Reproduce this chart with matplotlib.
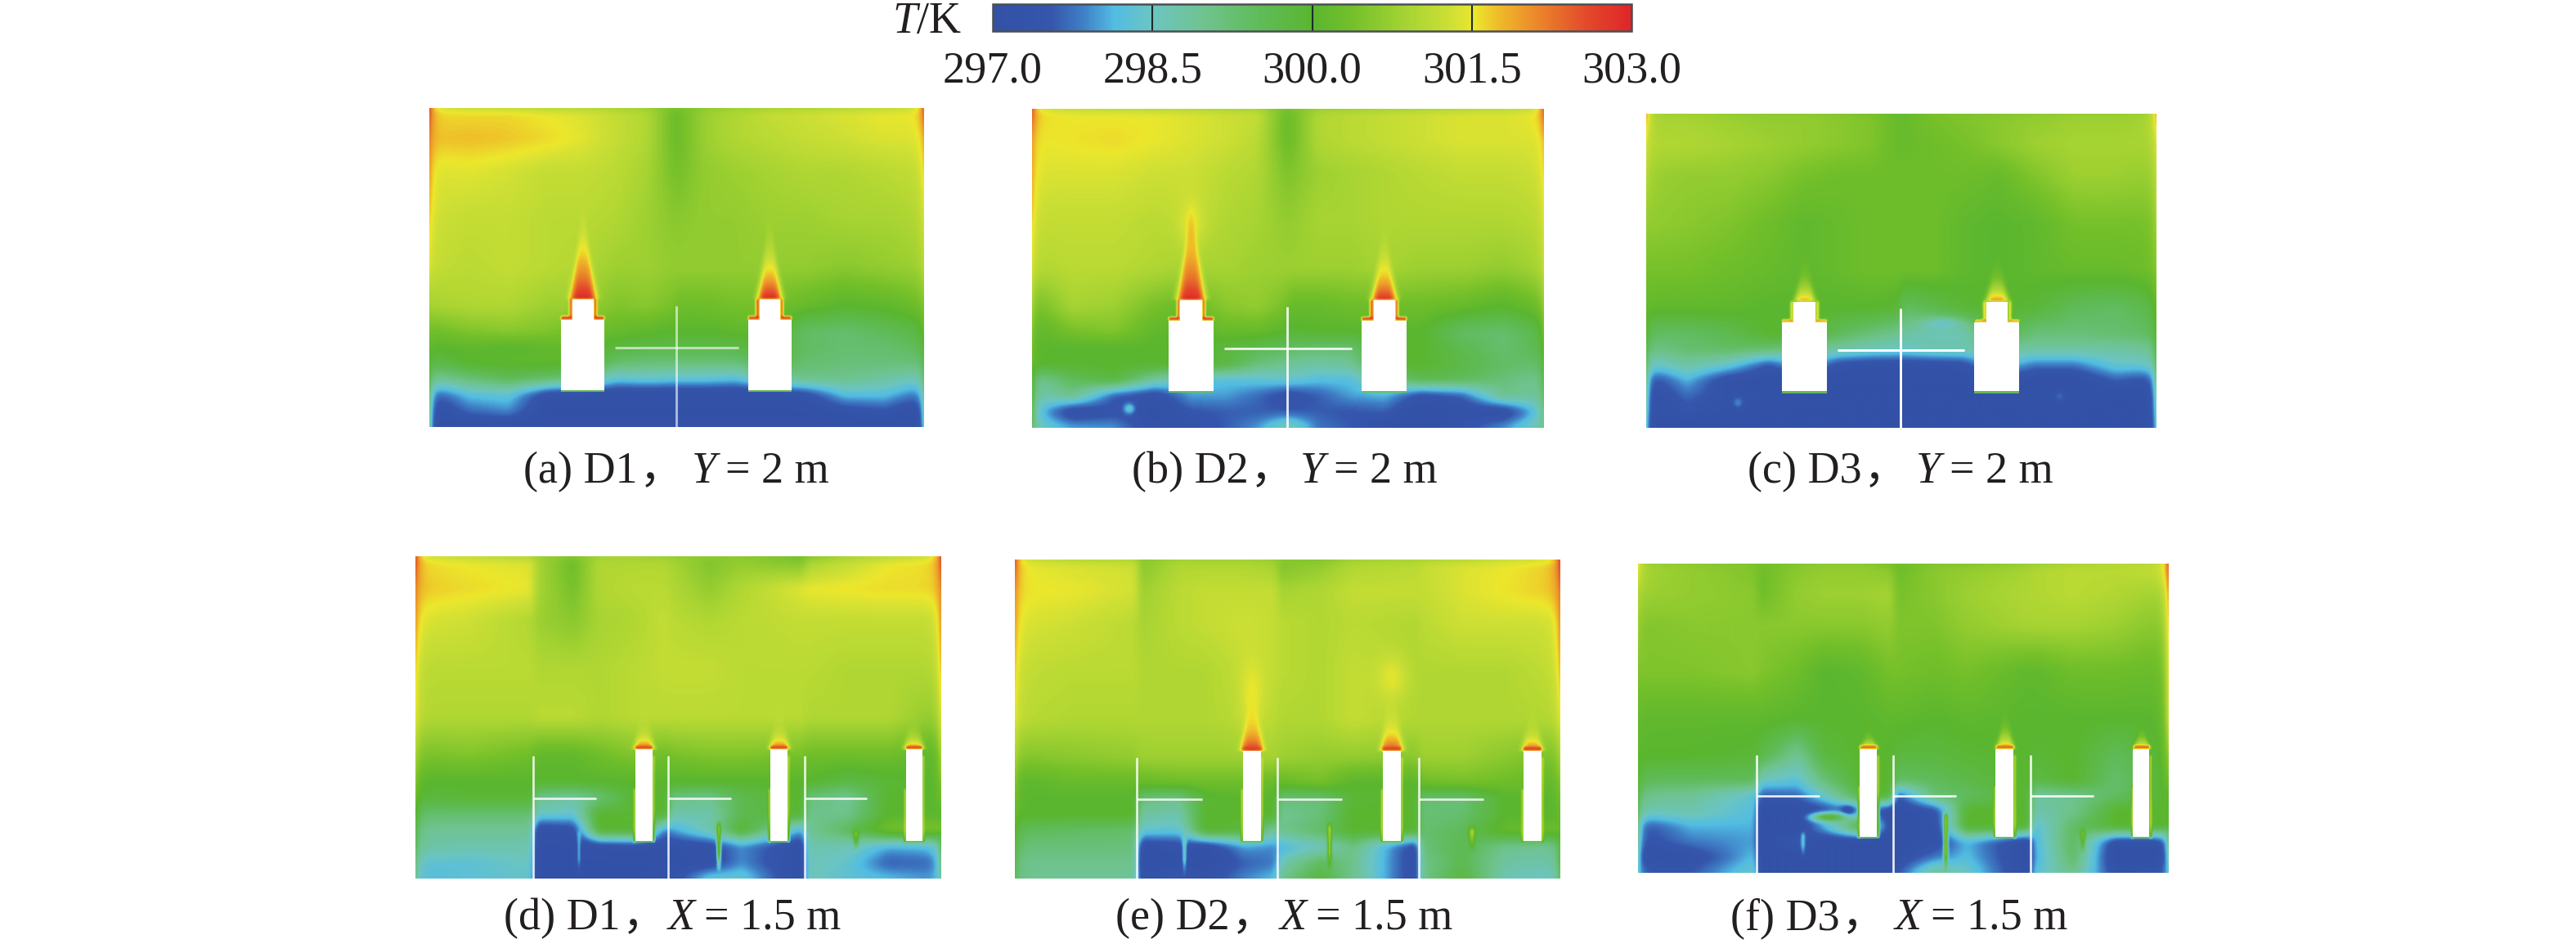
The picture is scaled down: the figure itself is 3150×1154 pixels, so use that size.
"""
Temperature fields in the D1-D3 rooms, sections Y = 2 m and X = 1.5 m
"""

import numpy as np
import matplotlib
matplotlib.use("Agg")
import matplotlib.pyplot as plt
from matplotlib.cm import ScalarMappable
from matplotlib.colors import LinearSegmentedColormap, Normalize
from matplotlib.patches import Rectangle

W, H = 3150, 1154
SERIF = "Liberation Serif"
CJK = "Noto Sans CJK SC"

T_MIN, T_MAX = 297.0, 303.0
CBAR_TICKS = [297.0, 298.5, 300.0, 301.5, 303.0]
CBAR_STOPS = [
    (0.00, "#3251a7"), (0.09, "#3556ac"), (0.14, "#3f7fc6"), (0.19, "#52bde3"),
    (0.25, "#6cc5c0"), (0.33, "#6fc38f"), (0.42, "#5fbb57"), (0.50, "#5ab62f"),
    (0.56, "#72bf2a"), (0.65, "#a7d433"), (0.72, "#cfe035"), (0.755, "#ece72c"),
    (0.80, "#efb429"), (0.87, "#e97a2b"), (0.93, "#e34a2b"), (1.00, "#de2629"),
]

# sample positions of the temperature tables, as fractions of a panel
ROWS = [0, .018, .10, .20, .35, .50, .62, .70, .75, .80, .85, .90, .95, 1]
COLS_Y = [0, .08, .16, .24, .31, .38, .44, .495, .505, .56, .62, .69, .76, .84, .92, 1]
COLS_X = [0, .10, .22, .232, .30, .35, .42, .476, .488, .56, .62, .735, .747, .82, .90, 1]

T_A = [
    [301.3, 301.1, 301.0, 300.9, 300.9, 300.8, 300.7, 300.5, 300.5, 300.6, 300.7, 300.8, 300.8, 300.9, 301.0, 301.2],
    [301.6, 301.6, 301.6, 301.5, 301.4, 301.2, 301.0, 300.3, 300.3, 300.8, 301.0, 301.2, 301.3, 301.4, 301.5, 301.5],
    [301.7, 301.75, 301.7, 301.6, 301.45, 301.2, 301.0, 300.3, 300.3, 300.8, 301.0, 301.1, 301.2, 301.3, 301.4, 301.4],
    [301.4, 301.45, 301.35, 301.2, 301.2, 301.1, 300.9, 300.4, 300.4, 300.7, 300.8, 300.9, 301.0, 301.0, 301.1, 301.2],
    [301.3, 301.2, 301.2, 301.1, 301.1, 301.0, 300.8, 300.6, 300.6, 300.7, 300.7, 300.8, 300.8, 300.9, 300.9, 301.0],
    [301.2, 301.1, 301.2, 301.1, 301.0, 300.8, 300.8, 300.7, 300.7, 300.7, 300.7, 300.7, 300.7, 300.6, 300.7, 300.8],
    [300.9, 301.0, 301.0, 300.8, 300.8, 300.5, 300.6, 300.4, 300.3, 300.3, 300.4, 300.4, 300.2, 300.0, 300.1, 300.3],
    [300.3, 300.5, 300.6, 300.5, 300.3, 300.2, 300.1, 300.0, 300.0, 300.0, 300.1, 300.1, 299.4, 299.3, 299.5, 299.8],
    [300.0, 300.1, 300.0, 300.1, 300.2, 299.8, 299.7, 299.7, 299.7, 299.7, 299.7, 300.0, 299.4, 299.3, 299.3, 299.5],
    [299.6, 300.0, 300.1, 300.1, 300.0, 299.3, 299.2, 299.2, 299.2, 299.2, 299.2, 299.7, 299.3, 299.2, 299.2, 299.2],
    [298.8, 299.2, 299.5, 299.3, 299.0, 298.3, 298.4, 298.3, 298.3, 298.3, 298.2, 298.8, 299.0, 299.0, 298.8, 298.5],
    [297.4, 298.2, 298.3, 297.2, 297.1, 297.0, 297.0, 297.0, 297.0, 297.0, 297.0, 297.0, 297.3, 298.2, 298.2, 297.6],
    [297.0, 297.7, 297.9, 297.0, 297.0, 297.0, 297.0, 297.0, 297.0, 297.0, 297.0, 297.0, 297.0, 297.3, 297.5, 297.0],
    [297.0, 297.0, 297.0, 297.0, 297.0, 297.0, 297.0, 297.0, 297.0, 297.0, 297.0, 297.0, 297.0, 297.0, 297.0, 297.0],
]
T_B = [
    [301.3, 301.1, 301.0, 300.9, 300.9, 300.8, 300.8, 300.5, 300.5, 300.7, 300.7, 300.8, 300.8, 300.9, 301.0, 301.2],
    [301.6, 301.5, 301.5, 301.5, 301.4, 301.3, 301.2, 300.3, 300.3, 301.0, 301.1, 301.2, 301.3, 301.4, 301.4, 301.5],
    [301.5, 301.55, 301.6, 301.5, 301.4, 301.3, 301.1, 300.3, 300.3, 301.0, 301.1, 301.2, 301.3, 301.4, 301.4, 301.4],
    [301.4, 301.4, 301.4, 301.3, 301.3, 301.1, 301.0, 300.5, 300.5, 300.8, 300.9, 301.0, 301.1, 301.2, 301.2, 301.3],
    [301.2, 301.2, 301.2, 301.1, 301.2, 301.0, 300.9, 300.7, 300.7, 300.9, 300.9, 301.0, 301.0, 301.0, 301.0, 301.1],
    [301.0, 301.1, 301.1, 301.0, 300.9, 300.9, 300.8, 300.8, 300.8, 300.8, 300.8, 300.9, 300.8, 300.8, 300.7, 300.9],
    [300.3, 300.9, 300.8, 300.4, 300.2, 300.6, 300.7, 300.4, 300.2, 300.2, 300.3, 300.3, 300.3, 300.2, 300.0, 300.3],
    [300.0, 300.4, 300.5, 300.1, 300.0, 300.2, 300.2, 300.0, 299.9, 300.0, 300.0, 300.0, 300.0, 299.4, 299.3, 299.7],
    [300.0, 300.0, 300.0, 300.0, 300.0, 299.8, 299.6, 299.5, 299.4, 299.3, 299.3, 300.0, 300.0, 299.6, 299.3, 299.6],
    [300.0, 300.0, 300.0, 300.0, 300.0, 299.8, 299.2, 299.0, 298.9, 298.8, 298.9, 300.0, 300.0, 299.7, 299.4, 299.3],
    [298.8, 299.5, 299.8, 298.8, 298.4, 298.2, 298.3, 298.4, 298.4, 298.2, 298.2, 299.0, 299.6, 299.5, 299.2, 298.9],
    [298.6, 299.0, 297.6, 297.2, 298.0, 298.0, 297.7, 297.3, 297.3, 297.6, 298.0, 298.1, 297.3, 297.6, 299.0, 298.8],
    [298.4, 297.1, 297.4, 297.1, 297.5, 297.6, 297.6, 297.6, 297.6, 297.6, 297.5, 297.6, 297.0, 297.2, 297.1, 298.4],
    [298.6, 298.1, 298.0, 297.2, 297.3, 297.6, 298.0, 298.8, 298.8, 297.8, 297.6, 297.1, 297.0, 297.4, 298.0, 298.8],
]
T_C = [
    [300.8, 300.8, 300.7, 300.6, 300.6, 300.5, 300.4, 300.2, 300.2, 300.4, 300.5, 300.5, 300.6, 300.7, 300.7, 300.8],
    [300.9, 300.9, 300.8, 300.7, 300.7, 300.6, 300.5, 300.2, 300.2, 300.4, 300.5, 300.6, 300.7, 300.8, 300.8, 300.9],
    [301.0, 301.0, 300.9, 300.8, 300.7, 300.6, 300.5, 300.2, 300.2, 300.3, 300.4, 300.6, 300.8, 300.9, 300.9, 300.9],
    [300.8, 300.7, 300.7, 300.6, 300.4, 300.3, 300.3, 300.3, 300.3, 300.3, 300.3, 300.2, 300.5, 300.8, 300.8, 300.7],
    [300.7, 300.6, 300.5, 300.3, 300.1, 300.2, 300.3, 300.3, 300.3, 300.3, 300.1, 300.0, 300.1, 300.4, 300.4, 300.4],
    [300.4, 300.4, 300.3, 300.2, 300.1, 300.2, 300.3, 300.3, 300.3, 300.3, 300.1, 300.0, 300.1, 300.2, 300.2, 300.3],
    [300.1, 300.1, 300.1, 300.0, 300.0, 300.0, 300.0, 299.9, 299.4, 299.6, 299.9, 300.0, 299.9, 299.5, 299.4, 299.7],
    [299.4, 299.4, 299.6, 300.0, 300.0, 299.5, 299.2, 299.0, 298.8, 298.6, 298.6, 299.8, 299.2, 299.2, 299.3, 299.4],
    [299.0, 299.3, 299.4, 299.3, 299.0, 298.8, 298.6, 298.5, 298.5, 298.7, 298.7, 298.9, 298.8, 298.8, 298.8, 298.9],
    [298.3, 298.8, 298.4, 297.5, 298.3, 297.3, 297.2, 297.2, 297.2, 297.2, 297.3, 298.4, 297.8, 297.8, 298.4, 298.4],
    [297.2, 298.1, 297.2, 297.0, 297.0, 297.0, 297.0, 297.0, 297.0, 297.0, 297.0, 297.2, 297.0, 297.0, 297.6, 297.3],
    [297.0, 297.7, 297.3, 297.2, 297.0, 297.0, 297.0, 297.0, 297.0, 297.0, 297.0, 297.0, 297.2, 297.2, 297.0, 297.0],
    [297.0, 297.4, 297.1, 297.0, 297.0, 297.0, 297.0, 297.0, 297.0, 297.0, 297.0, 297.0, 297.0, 297.0, 297.0, 297.0],
    [297.0, 297.0, 297.0, 297.0, 297.0, 297.0, 297.0, 297.0, 297.0, 297.0, 297.0, 297.0, 297.0, 297.0, 297.0, 297.0],
]
T_D = [
    [301.3, 301.1, 300.9, 300.8, 300.6, 300.8, 300.8, 300.7, 300.7, 300.7, 300.6, 300.4, 300.5, 300.8, 301.0, 301.3],
    [301.6, 301.5, 301.4, 300.9, 300.3, 301.0, 301.0, 301.0, 300.9, 300.5, 300.7, 300.5, 300.9, 301.2, 301.5, 301.6],
    [301.7, 301.6, 301.5, 300.9, 300.4, 301.0, 301.1, 301.1, 301.0, 300.7, 301.0, 301.45, 301.5, 301.55, 301.6, 301.6],
    [301.4, 301.3, 301.0, 300.8, 300.6, 300.9, 301.0, 301.2, 301.1, 301.0, 301.1, 301.2, 301.2, 301.2, 301.2, 301.2],
    [301.1, 301.1, 301.1, 301.0, 301.0, 301.0, 301.1, 301.2, 301.2, 301.2, 301.1, 301.1, 301.1, 301.0, 301.0, 301.0],
    [301.0, 301.0, 301.0, 301.1, 301.1, 301.0, 301.1, 301.1, 301.1, 301.1, 301.1, 301.1, 301.0, 301.0, 301.0, 300.6],
    [300.4, 300.5, 300.3, 300.1, 300.1, 300.3, 300.5, 300.3, 300.4, 300.5, 300.5, 300.4, 300.3, 300.3, 300.3, 300.0],
    [300.0, 300.0, 300.0, 300.0, 300.0, 300.0, 300.0, 300.0, 300.0, 300.0, 300.0, 300.0, 300.0, 299.7, 299.9, 300.0],
    [299.8, 299.9, 299.9, 299.0, 298.8, 299.2, 300.0, 300.0, 299.1, 299.0, 299.6, 300.0, 299.2, 298.9, 300.0, 300.0],
    [299.3, 299.3, 299.3, 298.5, 298.4, 300.0, 299.9, 300.0, 298.7, 298.7, 299.6, 300.0, 299.0, 299.0, 300.0, 300.0],
    [298.9, 298.9, 298.9, 297.1, 297.3, 300.0, 300.0, 297.8, 298.0, 298.7, 300.0, 298.0, 298.9, 299.5, 300.4, 300.5],
    [298.8, 298.7, 298.7, 297.0, 297.0, 297.2, 297.3, 297.1, 297.2, 297.3, 297.9, 297.1, 298.7, 298.6, 298.1, 298.2],
    [298.3, 298.3, 298.5, 297.0, 297.0, 297.0, 297.0, 297.0, 297.1, 297.2, 297.9, 297.0, 298.6, 298.4, 297.6, 297.7],
    [298.2, 298.3, 298.4, 297.0, 297.0, 297.0, 297.0, 297.2, 297.3, 298.4, 298.4, 297.0, 298.6, 298.3, 298.2, 297.9],
]
T_E = [
    [301.3, 301.0, 300.9, 300.6, 300.8, 300.8, 300.8, 300.7, 300.6, 300.5, 300.8, 300.9, 300.9, 301.0, 301.2, 301.3],
    [301.5, 301.4, 301.3, 300.6, 301.0, 301.0, 301.0, 300.9, 300.5, 300.7, 301.0, 301.1, 301.2, 301.4, 301.5, 301.7],
    [301.55, 301.5, 301.35, 300.8, 301.1, 301.2, 301.2, 301.2, 300.9, 301.0, 301.2, 301.2, 301.2, 301.4, 301.55, 301.7],
    [301.4, 301.3, 301.1, 300.9, 301.1, 301.2, 301.3, 301.2, 301.1, 301.0, 301.1, 301.0, 301.1, 301.3, 301.3, 301.3],
    [301.2, 301.1, 301.1, 301.0, 301.0, 301.0, 301.2, 301.2, 301.1, 301.0, 301.2, 301.0, 301.0, 301.0, 301.0, 301.2],
    [301.1, 301.0, 301.0, 301.0, 301.0, 301.0, 301.1, 301.1, 301.0, 301.0, 301.2, 301.0, 301.0, 301.0, 301.0, 301.0],
    [300.5, 300.6, 300.7, 300.8, 300.8, 300.8, 300.8, 300.9, 300.8, 300.7, 300.7, 300.6, 300.8, 300.8, 300.6, 300.4],
    [300.0, 300.2, 300.2, 300.2, 300.3, 300.3, 300.3, 300.2, 300.2, 300.4, 300.0, 300.0, 300.3, 300.4, 300.3, 300.1],
    [300.0, 300.0, 300.0, 299.2, 299.0, 299.9, 300.0, 300.0, 299.2, 299.2, 299.9, 300.0, 299.3, 299.2, 300.0, 300.0],
    [300.0, 300.0, 300.0, 298.8, 298.7, 300.0, 300.0, 300.0, 298.9, 299.2, 300.0, 300.0, 299.2, 299.3, 300.0, 300.0],
    [299.5, 299.4, 299.3, 298.4, 298.3, 300.0, 299.8, 298.8, 299.0, 299.4, 300.0, 300.0, 299.3, 299.5, 300.2, 300.3],
    [299.2, 299.2, 299.2, 297.1, 297.3, 297.1, 298.0, 297.9, 298.1, 298.5, 299.1, 297.2, 299.2, 299.6, 299.0, 298.9],
    [299.0, 299.0, 299.0, 297.0, 297.1, 297.0, 297.6, 297.8, 298.6, 299.5, 299.0, 297.2, 299.0, 299.6, 298.8, 298.7],
    [299.0, 298.9, 298.9, 297.2, 297.6, 297.3, 297.9, 298.2, 299.0, 299.8, 299.0, 297.2, 299.0, 299.8, 298.6, 298.4],
]
T_F = [
    [300.8, 300.6, 300.5, 300.4, 300.5, 300.6, 300.6, 300.4, 300.3, 300.5, 300.5, 300.7, 300.7, 300.9, 301.0, 301.1],
    [300.9, 300.7, 300.5, 300.3, 300.6, 300.7, 300.7, 300.6, 300.3, 300.6, 300.7, 300.9, 301.0, 301.1, 301.1, 301.2],
    [300.8, 300.7, 300.6, 300.3, 300.7, 300.8, 300.8, 300.9, 300.4, 300.6, 300.8, 301.0, 301.0, 301.1, 301.0, 300.8],
    [300.5, 300.6, 300.6, 300.6, 300.6, 300.6, 300.6, 300.7, 300.5, 300.5, 300.7, 300.9, 300.9, 300.9, 300.8, 300.5],
    [300.5, 300.5, 300.6, 300.5, 300.3, 300.0, 300.1, 300.4, 300.4, 300.3, 300.4, 300.1, 300.1, 300.3, 300.3, 300.2],
    [300.1, 300.1, 300.1, 300.1, 300.0, 300.0, 300.0, 300.1, 300.1, 300.0, 300.1, 300.0, 300.0, 300.0, 300.0, 300.0],
    [300.0, 300.0, 299.9, 299.7, 298.9, 299.8, 300.0, 300.0, 299.8, 299.8, 299.9, 300.0, 299.9, 300.0, 299.5, 300.0],
    [299.5, 299.5, 299.5, 298.5, 298.3, 299.2, 300.0, 300.0, 299.4, 299.5, 299.7, 300.0, 299.7, 300.0, 299.3, 300.0],
    [299.0, 298.9, 298.3, 297.6, 297.7, 298.5, 299.7, 300.0, 297.5, 299.3, 299.4, 300.0, 298.8, 299.0, 299.4, 300.0],
    [298.6, 298.7, 298.2, 297.0, 297.0, 297.3, 298.0, 297.0, 297.0, 297.4, 300.0, 300.0, 298.7, 299.0, 300.0, 300.0],
    [297.4, 298.1, 298.1, 297.0, 297.0, 298.2, 300.0, 297.3, 297.0, 297.3, 300.0, 300.0, 298.2, 299.4, 300.0, 300.0],
    [297.3, 297.8, 298.0, 297.0, 297.6, 297.0, 297.0, 297.0, 297.0, 297.3, 298.1, 297.0, 298.1, 299.5, 297.2, 297.2],
    [297.0, 297.2, 298.2, 297.0, 297.0, 297.0, 297.0, 297.0, 297.2, 297.8, 298.2, 297.0, 298.0, 299.4, 297.0, 297.0],
    [297.6, 297.6, 298.5, 297.0, 297.0, 297.0, 297.0, 297.0, 297.5, 299.0, 298.5, 297.0, 298.3, 299.0, 297.3, 297.5],
]

# wall temperatures down the left and right sides
WALL_ROWS = [0, .10, .30, .50, .70, 1]
WALL_A = ([302.7, 302.2, 301.8, 301.4, 300.4, 299.0], [302.6, 301.9, 301.5, 301.1, 300.2, 298.5])
WALL_B = ([302.6, 302.0, 301.8, 301.4, 300.6, 299.5], [302.6, 301.8, 301.5, 301.2, 300.4, 299.0])
WALL_C = ([302.0, 301.4, 300.8, 300.4, 300.0, 298.5], [302.0, 301.4, 301.0, 300.6, 300.0, 298.5])
WALL_D = ([302.7, 302.2, 301.8, 301.5, 300.6, 299.0], [302.7, 302.2, 301.9, 301.5, 300.6, 299.0])
WALL_E = ([302.6, 302.1, 301.8, 301.5, 300.6, 299.5], [302.8, 302.3, 301.9, 301.5, 300.6, 299.5])
WALL_F = ([301.6, 301.0, 300.6, 300.2, 300.0, 298.5], [302.6, 302.0, 301.6, 301.4, 300.4, 298.5])

# plume above each heat source: centre, tip height, half width, peak T, fall-off power
PLUMES_A = [(.311, .28, .026, 303.0, 2.0), (.688, .30, .024, 303.0, 2.6)]
PLUMES_B = [(.311, .26, .027, 303.0, 1.7), (.688, .33, .024, 302.9, 2.6)]
PLUMES_C = [(.311, .40, .020, 302.0, 3.5), (.688, .40, .022, 302.2, 3.5)]
PLUMES_D = [(.435, .40, .018, 302.8, 6.0), (.692, .40, .018, 302.8, 6.0), (.948, .42, .018, 302.6, 6.0)]
PLUMES_E = [(.435, .30, .020, 302.9, 4.5), (.691, .30, .020, 302.7, 5.0), (.949, .38, .018, 302.6, 5.5)]
PLUMES_F = [(.435, .52, .016, 301.9, 2.5), (.692, .44, .016, 302.1, 3.0), (.949, .50, .016, 301.9, 2.5)]

# soft patches: x, y, x radius, y radius, T
BLOBS_A = []
BLOBS_B = [(.19, .94, .012, .018, 298.4), (.311, .36, .022, .07, 301.5)]
BLOBS_C = [(.58, .67, .035, .018, 298.4), (.18, .92, .012, .02, 297.9), (.81, .90, .012, .02, 297.7)]
BLOBS_D = []
BLOBS_E = [(.435, .42, .022, .11, 301.5), (.691, .37, .028, .07, 301.45)]
BLOBS_F = [(.395, .80, .014, .017, 297.1), (.36, .82, .035, .015, 300.0)]

# thin vertical streaks: x, top, bottom, half width, T
STREAKS_A, STREAKS_B, STREAKS_C = [], [], []
STREAKS_D = [(.311, .84, 1.0, .004, 298.2), (.577, .82, .98, .003, 301.0), (.838, .84, .92, .005, 300.6)]
STREAKS_E = [(.311, .85, 1.0, .004, 298.6), (.577, .82, .98, .003, 301.2), (.838, .83, .92, .005, 301.0)]
STREAKS_F = [(.311, .86, .97, .004, 298.4), (.580, .80, 1.0, .003, 301.4), (.838, .85, .94, .004, 300.6)]

# heat next to the sources: neck sides or bar sides, top shoulder
EDGE_HEAT = [302.3, 302.3, 301.5, 301.4, 301.5, 301.5]
SHOULDER_HEAT = [302.8, 302.8, 302.4, 302.6, 302.6, 302.3]

PANELS = [T_A, T_B, T_C, T_D, T_E, T_F]
WALLS = [WALL_A, WALL_B, WALL_C, WALL_D, WALL_E, WALL_F]
PLUMES = [PLUMES_A, PLUMES_B, PLUMES_C, PLUMES_D, PLUMES_E, PLUMES_F]
BLOBS = [BLOBS_A, BLOBS_B, BLOBS_C, BLOBS_D, BLOBS_E, BLOBS_F]
STREAKS = [STREAKS_A, STREAKS_B, STREAKS_C, STREAKS_D, STREAKS_E, STREAKS_F]
LABELS = ["(a) D1", "(b) D2", "(c) D3", "(d) D1", "(e) D2", "(f) D3"]
AXIS_NAMES = ["Y", "Y", "Y", "X", "X", "X"]
AXIS_VALUES = ["= 2 m", "= 2 m", "= 2 m", "= 1.5 m", "= 1.5 m", "= 1.5 m"]

# panel boxes in image pixels: left, right, top, bottom
BOXES = [(525, 1130, 132, 522), (1262, 1888, 133, 523), (2013, 2636, 139, 523),
         (508, 1151, 680, 1074), (1241, 1908, 684, 1074), (2003, 2651, 689, 1067)]
CAPTION_X = [640, 1384, 2137, 616, 1364, 2116]
CAPTION_BASE = [590, 590, 590, 1136, 1136, 1136]
LINE_ALPHA = [.6, .85, 1, .85, .85, .9]

BODIES = [(.266, .354), (.644, .732)]
NECKS = [(.289, .332), (.667, .709)]
BARS = [(.418, .451), (.675, .708), (.933, .965)]
VLINES_X = [.224, .481, .740]
HLINE_LEN = .119

cmap = LinearSegmentedColormap.from_list("room", CBAR_STOPS)
norm = Normalize(T_MIN, T_MAX)


def blur(a, r, axis):
    kernel = np.ones(2 * r + 1) / (2 * r + 1)
    pad = [(0, 0), (0, 0)]
    pad[axis] = (r, r)
    p = np.pad(a, pad, mode="edge")
    return np.apply_along_axis(lambda v: np.convolve(v, kernel, mode="valid"), axis, p)


def smooth(a, r):
    for _ in range(2):
        a = blur(blur(a, r, 0), r, 1)
    return a


def box(a, xx, yy, x0, x1, y0, y1, t):
    inside = (xx >= x0) & (xx <= x1) & (yy >= y0) & (yy <= y1)
    a[inside] = np.maximum(a[inside], t)


def build_field(i, nx, ny):
    table = np.array(PANELS[i], dtype=float)
    cols = COLS_Y if i < 3 else COLS_X
    fx = (np.arange(nx) + .5) / nx
    fy = (np.arange(ny) + .5) / ny
    by_row = np.array([np.interp(fx, cols, row) for row in table])
    field = np.array([np.interp(fy, ROWS, by_row[:, c]) for c in range(nx)]).T
    field = smooth(field, 4)
    xx, yy = np.meshgrid(fx, fy)

    for x0, y0, rx, ry, t in BLOBS[i]:
        weight = np.exp(-((xx - x0) / rx) ** 2 - ((yy - y0) / ry) ** 2)
        field = field + (t - field) * weight

    left, right = WALLS[i]
    for wall, dist in ((left, xx), (right, 1 - xx)):
        t = np.interp(yy, WALL_ROWS, wall)
        field = np.where(t > field, field + (t - field) * np.exp(-dist / .008), field)

    for x0, tip, half, peak, power in PLUMES[i]:
        base = .60
        s = np.clip((base - yy) / (base - tip), 0, 1)
        w = half * (1 - s) ** 1.3 + .0015
        weight = (1 - s) ** power * np.exp(-((xx - x0) / w) ** 4)
        weight[yy > base] = 0
        field = field + (np.maximum(peak, field) - field) * weight

    for x0, top, bottom, half, t in STREAKS[i]:
        window = np.clip((yy - top) / .02, 0, 1) * np.clip((bottom - yy) / .06, 0, 1)
        weight = np.exp(-((xx - x0) / half) ** 2) * window
        field = field + (t - field) * weight

    if i < 3:
        for (bx0, bx1), (nx0, nx1) in zip(BODIES, NECKS):
            box(field, xx, yy, nx0 - .007, nx0, .60, .665, EDGE_HEAT[i])
            box(field, xx, yy, nx1, nx1 + .007, .60, .665, EDGE_HEAT[i])
            box(field, xx, yy, bx0, nx0, .655, .665, SHOULDER_HEAT[i])
            box(field, xx, yy, nx1, bx1, .655, .665, SHOULDER_HEAT[i])
    else:
        for bx0, bx1 in BARS:
            box(field, xx, yy, bx0 - .003, bx0, .72, .885, EDGE_HEAT[i])
            box(field, xx, yy, bx1, bx1 + .003, .62, .885, EDGE_HEAT[i])
            box(field, xx, yy, bx0, bx1, .588, .60, SHOULDER_HEAT[i])
    return smooth(field, 1)


def draw_sources(ax, i):
    halo = dict(facecolor="#6cc24e", edgecolor="none", alpha=.9, zorder=3)
    solid = dict(facecolor="white", edgecolor="none", zorder=4)
    if i < 3:
        for (bx0, bx1), (nx0, nx1) in zip(BODIES, NECKS):
            ax.add_patch(Rectangle((bx0, .84), bx1 - bx0, .05, **halo))
            ax.add_patch(Rectangle((bx0, .665), bx1 - bx0, .219, **solid))
            ax.add_patch(Rectangle((nx0, .60), nx1 - nx0, .07, **solid))
        line = dict(color="white", alpha=LINE_ALPHA[i], lw=2.1, solid_capstyle="butt", zorder=5)
        ax.plot([.499, .499], [.62, 1], **line)
        ax.plot([.376, .624], [.752, .752], **line)
    else:
        for bx0, bx1 in BARS:
            ax.add_patch(Rectangle((bx0, .85), bx1 - bx0, .038, **halo))
            ax.add_patch(Rectangle((bx0, .60), bx1 - bx0, .283, **solid))
        line = dict(color="white", alpha=LINE_ALPHA[i], lw=1.9, solid_capstyle="butt", zorder=5)
        for x in VLINES_X:
            ax.plot([x, x], [.62, 1], **line)
            ax.plot([x, x + HLINE_LEN], [.752, .752], **line)


def px_text(fig, x, y, s, family=SERIF, size=39, **kw):
    return fig.text(x / W, 1 - y / H, s, family=family, fontsize=size, color="#231f20",
                    ha="left", va="baseline", **kw)


def caption(fig, renderer, i):
    x, y = CAPTION_X[i], CAPTION_BASE[i]
    first = px_text(fig, x, y, LABELS[i])
    end = first.get_window_extent(renderer).x1
    px_text(fig, end + 2, y, "，", family=CJK)
    name_x = x + (206 if i < 3 else 201)
    name = px_text(fig, name_x, y, AXIS_NAMES[i], style="italic")
    end = name.get_window_extent(renderer).x1
    px_text(fig, end + 11, y, AXIS_VALUES[i])


def main():
    fig = plt.figure(figsize=(W / 100, H / 100), dpi=100, facecolor="white")
    renderer = fig.canvas.get_renderer()

    for i, (x0, x1, y0, y1) in enumerate(BOXES):
        ax = fig.add_axes([x0 / W, 1 - y1 / H, (x1 - x0) / W, (y1 - y0) / H])
        ax.imshow(build_field(i, x1 - x0, y1 - y0), cmap=cmap, norm=norm, aspect="auto",
                  extent=[0, 1, 1, 0], interpolation="bilinear")
        draw_sources(ax, i)
        ax.set_xlim(0, 1)
        ax.set_ylim(1, 0)
        ax.axis("off")
        caption(fig, renderer, i)

    # colour bar on top
    cax = fig.add_axes([1214 / W, 1 - 38 / H, 781 / W, 33 / H])
    cb = fig.colorbar(ScalarMappable(norm=norm, cmap=cmap), cax=cax, orientation="horizontal",
                      ticks=CBAR_TICKS)
    cb.ax.set_xticklabels([f"{t:.1f}" for t in CBAR_TICKS], family=SERIF, fontsize=39,
                          color="#231f20")
    cb.ax.tick_params(length=0, pad=17)
    cb.outline.set_edgecolor("#4a4f55")
    cb.outline.set_linewidth(1.8)
    for t in CBAR_TICKS[1:-1]:
        cb.ax.axvline(t, color="#1c2b2b", lw=1.5)

    label = px_text(fig, 1091, 40, "T", style="italic")
    end = label.get_window_extent(renderer).x1
    px_text(fig, end, 40, "/K")

    fig.savefig("out.png", dpi=100, facecolor="white")


if __name__ == "__main__":
    main()
